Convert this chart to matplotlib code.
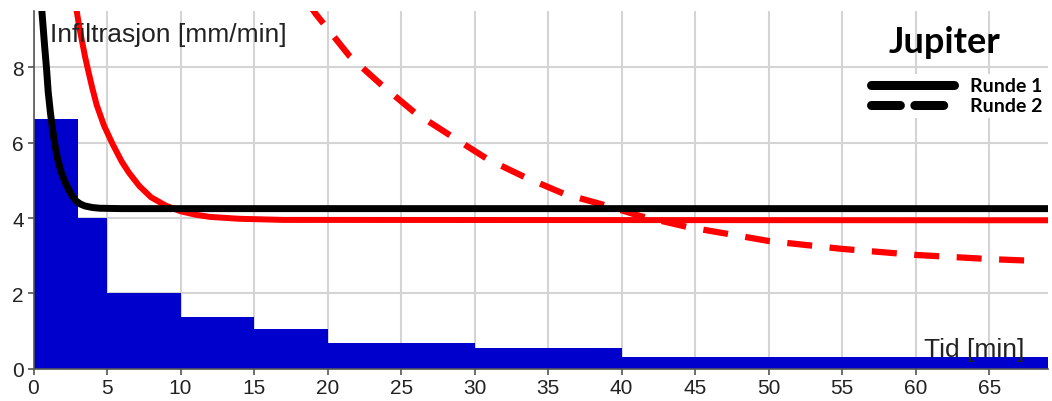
import matplotlib
matplotlib.use("Agg")
import matplotlib.pyplot as plt
from matplotlib.lines import Line2D

# Nedbør / blå trapper
step_edges = [0, 3, 5, 10, 15, 20, 30, 40, 69]
step_values = [6.62, 4.0, 2.0, 1.36, 1.05, 0.68, 0.55, 0.31]

# Runde 1 (svart)
r1_x = [0.55, 0.65, 0.75, 0.9, 1.0, 1.15, 1.3, 1.45, 1.65, 1.9, 2.15, 2.4,
        2.65, 2.9, 3.2, 3.5, 4.0, 4.5, 6, 69]
r1_y = [9.6, 9.1, 8.6, 7.9, 7.35, 6.8, 6.35, 5.95, 5.55, 5.2, 4.95, 4.75,
        4.58, 4.45, 4.37, 4.32, 4.28, 4.26, 4.25, 4.25]

# Runde 1 (rød)
r1r_x = [2.9, 3.1, 3.3, 3.5, 3.7, 4.0, 4.3, 4.8, 5.4, 6.0, 6.5, 7.2, 8.0,
         9.0, 10, 11, 12, 14, 17, 69]
r1r_y = [9.6, 9.1, 8.7, 8.3, 7.95, 7.45, 7.0, 6.45, 5.95, 5.5, 5.2, 4.85,
         4.55, 4.33, 4.18, 4.09, 4.03, 3.98, 3.95, 3.94]

# Runde 2 (rød stiplet)
r2_x = [18.7, 19.2, 21.5, 23.6, 25.9, 28.4, 30.9, 33.4, 36.1, 38.6, 41.3,
        44.5, 47.5, 50, 55, 60, 65, 68.2]
r2_y = [9.7, 9.42, 8.30, 7.56, 6.81, 6.18, 5.56, 5.09, 4.64, 4.37, 4.05,
        3.76, 3.56, 3.39, 3.18, 3.02, 2.91, 2.86]

x_ticks = list(range(0, 70, 5))
y_ticks = [0, 2, 4, 6, 8]

W, H = 1052, 402
fig = plt.figure(figsize=(W / 100, H / 100), dpi=100)
x0, x1, y0, y1 = 33.5, 1048, 369.6, 12
ax = fig.add_axes([x0 / W, (H - y0) / H, (x1 - x0) / W, (y0 - y1) / H])

ax.stairs(step_values, step_edges, fill=True, color="#0000cc", zorder=2)
ax.plot(r1r_x, r1r_y, color="#ff0000", lw=4.3, zorder=3, solid_capstyle="butt")
ax.plot(r2_x, r2_y, color="#ff0000", lw=4.5, zorder=3, dashes=(4, 2.8),
        dash_capstyle="butt")
ax.plot(r1_x, r1_y, color="black", lw=5, zorder=4, solid_capstyle="butt")

ax.set_xlim(0, 69)
ax.set_ylim(0, 9.5)
ax.set_xticks(x_ticks)
ax.set_yticks(y_ticks)
ax.grid(True, color="#d4d4d4", lw=1.5, zorder=0)
ax.set_axisbelow(True)
for s in ["top", "right"]:
    ax.spines[s].set_visible(False)
for s in ["left", "bottom"]:
    ax.spines[s].set_color("#555555")
    ax.spines[s].set_linewidth(1.2)
ax.tick_params(length=4, width=1.2, color="#555555", labelsize=15,
               labelcolor="#222222", pad=3)
for lbl in ax.get_xticklabels() + ax.get_yticklabels():
    lbl.set_fontfamily("Liberation Sans")

ax.text(0.016, 0.936, "Infiltrasjon [mm/min]", transform=ax.transAxes,
        fontsize=19, family="Liberation Sans", va="center", ha="left",
        color="#222222", zorder=6)
ax.text(0.977, 0.055, "Tid [min]", transform=ax.transAxes,
        fontsize=19, family="Liberation Sans", va="center", ha="right",
        color="#222222", zorder=6)
ax.text(0.898, 0.915, "Jupiter", transform=ax.transAxes, fontsize=26,
        family="Lato", weight="bold", va="center", ha="center", zorder=6)

handles = [Line2D([], [], color="black", lw=6.5, solid_capstyle="round"),
           Line2D([], [], color="black", lw=6.5, dashes=(3.2, 1.6),
                  dash_capstyle="round")]
leg = ax.legend(handles, ["Runde 1", "Runde 2"], loc="upper right",
                bbox_to_anchor=(0.998, 0.825), frameon=True, framealpha=1,
                facecolor="white", edgecolor="none", fancybox=False,
                handlelength=4.3, handletextpad=0.8, labelspacing=0.15,
                borderpad=0.2, borderaxespad=0,
                prop={"family": "Lato", "weight": "bold", "size": 14})
leg.set_zorder(5)

fig.savefig("out.png", dpi=100)
